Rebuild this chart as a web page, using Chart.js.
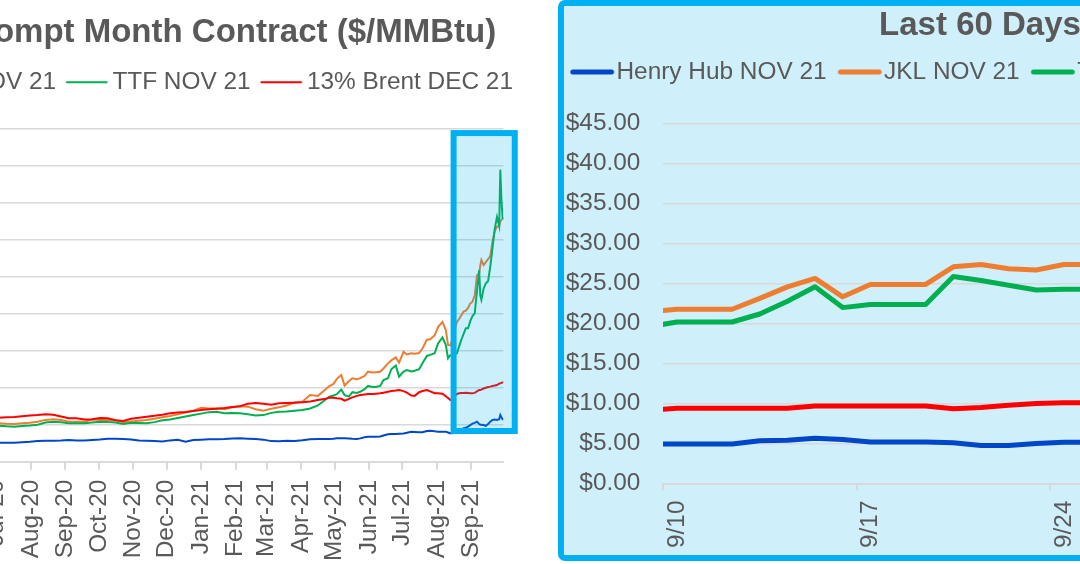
<!DOCTYPE html>
<html><head><meta charset="utf-8">
<script src="https://cdn.jsdelivr.net/npm/chart.js@4.4.0/dist/chart.umd.min.js"></script>
<style>
html,body{margin:0;padding:0;width:1080px;height:564px;overflow:hidden;background:#fff;}
#leftWrap{position:absolute;left:-417px;top:0;width:940px;height:571px;}
#frame{position:absolute;left:558px;top:0;width:620px;height:561px;box-sizing:border-box;border:6px solid #00B0F0;border-radius:7px;background:#CFEFFB;}
#rightWrap{position:absolute;left:559px;top:6px;width:960px;height:552px;}
</style></head><body>
<div id="leftWrap"><canvas id="leftChart"></canvas></div>
<div id="frame"></div>
<div id="rightWrap"><canvas id="rightChart"></canvas></div>
<script>
// ---------- data ----------
const seriesNames = ['Henry Hub NOV 21', 'JKL NOV 21', 'TTF NOV 21', '13% Brent DEC 21'];
const seriesColors = ['#0046C8', '#ED7D31', '#00B050', '#FF0000'];
const leftTitle = 'Prompt Month Contract ($/MMBtu)';
const rightTitle = 'Last 60 Days';

const leftMonthLabels = ['Jul-20','Aug-20','Sep-20','Oct-20','Nov-20','Dec-20','Jan-21','Feb-21','Mar-21','Apr-21','May-21','Jun-21','Jul-21','Aug-21','Sep-21'];

const leftDates = [
'2020-06-19','2020-06-26','2020-07-03','2020-07-10','2020-07-17','2020-07-24','2020-07-31','2020-08-07','2020-08-14','2020-08-21','2020-08-28','2020-09-04','2020-09-11','2020-09-18','2020-09-25',
'2020-10-02','2020-10-09','2020-10-16','2020-10-23','2020-10-30','2020-11-06','2020-11-13','2020-11-20','2020-11-27','2020-12-04','2020-12-11','2020-12-18','2020-12-25','2021-01-01','2021-01-08',
'2021-01-15','2021-01-22','2021-01-29','2021-02-05','2021-02-12','2021-02-19','2021-02-26','2021-03-05','2021-03-12','2021-03-19','2021-03-26','2021-04-02','2021-04-09','2021-04-16','2021-04-23',
'2021-04-26','2021-04-30','2021-05-03','2021-05-07','2021-05-10','2021-05-14','2021-05-17','2021-05-21','2021-05-24','2021-05-28','2021-05-31','2021-06-04','2021-06-07','2021-06-11','2021-06-14',
'2021-06-18','2021-06-21','2021-06-25','2021-06-28','2021-07-02','2021-07-05','2021-07-09','2021-07-12','2021-07-16','2021-07-19','2021-07-23','2021-07-26','2021-07-30','2021-08-02','2021-08-06',
'2021-08-09','2021-08-11','2021-08-13','2021-08-15','2021-08-17','2021-08-19','2021-08-21','2021-08-23','2021-08-25','2021-08-27','2021-08-29','2021-08-31','2021-09-02','2021-09-04','2021-09-06',
'2021-09-08','2021-09-09','2021-09-10','2021-09-12','2021-09-14','2021-09-16','2021-09-18','2021-09-20','2021-09-22','2021-09-24','2021-09-26','2021-09-27','2021-09-28','2021-09-29','2021-09-30'
];
const leftHH = [
2.57,2.57,2.57,2.57,2.57,2.62,2.68,2.80,2.84,2.84,2.86,2.94,2.86,2.88,2.94,
3.00,3.10,3.10,3.06,3.00,2.86,2.84,2.80,2.72,2.88,2.95,2.70,2.92,2.98,3.03,
3.03,3.05,3.12,3.17,3.10,3.05,2.98,2.78,2.75,2.84,2.80,2.90,3.03,3.05,3.07,
3.05,3.10,3.17,3.17,3.17,3.15,3.10,3.07,3.15,3.30,3.38,3.38,3.38,3.40,3.55,
3.72,3.75,3.75,3.78,3.80,3.90,4.05,4.02,3.98,3.98,4.15,4.19,4.10,4.06,4.06,
4.06,3.95,3.84,3.84,3.90,3.95,4.10,4.35,4.52,4.60,4.73,4.95,5.15,5.25,5.41,
5.10,5.00,5.00,4.95,4.83,5.10,5.41,5.65,5.70,5.64,5.75,6.30,6.00,5.73,5.73
];
const leftJKL = [
5.25,5.22,5.19,5.12,5.10,5.19,5.25,5.40,5.65,5.74,5.64,5.41,5.41,5.41,5.70,
5.64,5.64,5.60,5.33,5.45,5.55,5.64,5.80,6.00,6.18,6.40,6.65,6.90,7.30,7.20,
7.22,7.10,7.35,7.50,7.44,7.10,6.90,7.15,7.35,7.60,8.00,8.12,9.02,8.90,9.80,
10.20,10.51,11.20,11.73,10.30,10.90,11.28,11.15,11.30,11.60,12.17,12.05,12.10,12.17,12.60,
13.30,13.70,14.10,13.40,14.85,14.50,14.65,14.60,14.70,15.30,16.50,16.56,17.10,18.20,18.90,
17.80,15.80,15.70,16.50,17.80,18.90,19.30,19.80,20.30,20.43,20.80,21.42,21.64,22.50,25.20,
25.50,26.50,27.28,26.60,27.00,27.40,27.80,29.80,31.20,31.80,31.80,32.50,32.70,32.90,32.92
];
const leftTTF = [
4.90,4.90,4.87,4.78,4.73,4.83,4.90,5.00,5.30,5.41,5.33,5.19,5.19,5.19,5.30,
5.41,5.35,5.30,5.10,5.25,5.22,5.19,5.35,5.60,5.70,5.90,6.10,6.32,6.50,6.70,
6.76,6.55,6.60,6.55,6.41,6.25,6.30,6.60,6.76,6.80,6.90,6.99,7.20,7.60,8.40,
8.75,8.95,9.12,9.75,9.00,8.80,9.40,9.30,9.45,9.80,10.24,10.10,10.10,10.24,11.05,
11.28,12.50,13.00,11.50,12.20,12.40,12.20,12.30,12.50,13.30,14.30,14.45,14.66,16.00,16.80,
15.80,14.00,14.40,14.40,14.50,14.66,15.60,16.50,17.30,18.04,18.04,19.00,19.70,20.07,23.00,
25.90,22.50,21.90,23.40,24.13,24.40,26.40,28.90,31.50,33.10,31.90,39.50,35.50,33.10,32.80
];
const leftBrent = [
5.95,5.95,5.95,6.00,6.05,6.15,6.25,6.30,6.40,6.35,6.10,5.87,5.87,5.70,5.75,
5.90,5.87,5.60,5.50,5.80,5.95,6.09,6.20,6.35,6.55,6.65,6.72,6.85,6.99,7.08,
7.15,7.25,7.38,7.50,7.85,7.95,7.82,7.70,7.90,7.95,7.98,8.03,8.15,8.35,8.50,
8.68,8.66,8.58,8.50,8.25,8.50,8.70,8.90,9.02,9.10,9.15,9.16,9.20,9.25,9.33,
9.45,9.55,9.62,9.70,9.55,9.33,8.95,8.90,9.40,9.55,9.70,9.50,9.25,9.25,9.20,
8.85,8.60,8.35,8.60,8.90,9.16,9.25,9.30,9.30,9.33,9.30,9.25,9.25,9.30,9.50,
9.70,9.70,9.75,9.90,10.00,10.10,10.15,10.25,10.30,10.37,10.55,10.60,10.65,10.72,10.74
];
const highlightDates = ['2021-08-16', '2021-10-10'];
const highlightValues = [4.15, 44.45];

const rightDates = ['9/9','9/10','9/11','9/12','9/13','9/14','9/15','9/16','9/17','9/18','9/19','9/20','9/21','9/22','9/23','9/24','9/25','9/26','9/27','9/28','9/29','9/30','10/1','10/2','10/3'];
const rightHH    = [4.94,4.94,4.94,4.94,5.35,5.40,5.65,5.50,5.20,5.20,5.20,5.10,4.77,4.77,5.00,5.15,5.15,5.15,5.40,5.70,5.65,5.60,5.75,5.75,5.75];
const rightJKL   = [21.45,21.80,21.80,21.80,23.15,24.60,25.65,23.35,24.90,24.90,24.90,27.10,27.40,26.85,26.70,27.40,27.40,27.40,27.80,29.80,31.20,31.80,31.80,31.80,31.80];
const rightTTF   = [19.60,20.20,20.20,20.20,21.20,22.80,24.60,22.00,22.40,22.40,22.40,25.90,25.40,24.80,24.20,24.30,24.30,24.30,26.40,29.00,31.60,33.10,31.80,31.80,31.80];
const rightBrent = [9.15,9.40,9.40,9.40,9.40,9.40,9.70,9.70,9.70,9.70,9.70,9.35,9.50,9.80,10.00,10.10,10.10,10.10,10.20,10.30,10.35,10.40,10.55,10.55,10.55];
const rightTickLabels = ['9/10','9/17','9/24','10/1'];

// ---------- helpers ----------
const DAY = 864e5;
const BASE = Date.UTC(2020, 6, 1);
function dayOf(iso) { const [y, m, d] = iso.split('-').map(Number); return (Date.UTC(y, m - 1, d) - BASE) / DAY; }
const MONTHS = ['Jan','Feb','Mar','Apr','May','Jun','Jul','Aug','Sep','Oct','Nov','Dec'];
function monthDay(lbl) { const [mm, yy] = lbl.split('-'); return (Date.UTC(2000 + Number(yy), MONTHS.indexOf(mm), 1) - BASE) / DAY; }
function rightDay(md) { const [m, d] = md.split('/').map(Number); return (Date.UTC(2021, m - 1, d) - Date.UTC(2021, 7, 31)) / DAY; }

Chart.defaults.font.family = "'Liberation Sans', Arial, sans-serif";
Chart.defaults.color = '#595959';
const FONT = 24.4;
const TITLE_FONT = 33;
const GRID = '#D9D9D9';
const TXT = '#595959';

function legendLine(color, width, from, to, boxW, cap) {
  const c = document.createElement('canvas');
  c.width = 120; c.height = 12;
  const g = c.getContext('2d');
  g.strokeStyle = color; g.lineWidth = width; g.lineCap = cap;
  const x0 = 60 - boxW / 2;
  g.beginPath(); g.moveTo(x0 + from, 6); g.lineTo(x0 + to, 6); g.stroke();
  return c;
}
const leftLegendImgs = seriesColors.map(c => legendLine(c, 2, 0, 41.3, 34.1, 'butt'));
const rightLegendImgs = seriesColors.map(c => legendLine(c, 5, 2.8, 41.5, 34.3, 'round'));

function legendOpts(imgs, align, pad, boxW) {
  return {
    display: true, position: 'top', align: align,
    labels: {
      usePointStyle: true, pointStyleWidth: boxW, padding: pad,
      font: { size: FONT }, color: TXT,
      sort: (a, b) => a.datasetIndex - b.datasetIndex,
      generateLabels: chart => {
        const items = Chart.defaults.plugins.legend.labels.generateLabels(chart);
        items.forEach(it => { it.pointStyle = imgs[it.datasetIndex]; });
        return items;
      }
    }
  };
}

const highlightPlugin = {
  id: 'highlightBox',
  afterDatasetsDraw(chart) {
    const { ctx, scales: { x, y } } = chart;
    const x0 = x.getPixelForValue(dayOf(highlightDates[0]));
    const x1 = x.getPixelForValue(dayOf(highlightDates[1]));
    const y0 = y.getPixelForValue(highlightValues[1]);
    const y1 = y.getPixelForValue(highlightValues[0]);
    ctx.save();
    ctx.fillStyle = 'rgba(0,176,240,0.2)';
    ctx.fillRect(x0, y0, x1 - x0, y1 - y0);
    ctx.lineWidth = 6; ctx.strokeStyle = '#00B0F0'; ctx.lineJoin = 'miter';
    ctx.strokeRect(x0, y0, x1 - x0, y1 - y0);
    ctx.restore();
  }
};

// ---------- left chart ----------
const leftSeries = [leftHH, leftJKL, leftTTF, leftBrent];
new Chart(document.getElementById('leftChart'), {
  type: 'line',
  data: {
    datasets: leftSeries.map((vals, i) => ({
      label: seriesNames[i],
      data: vals.map((v, k) => ({ x: dayOf(leftDates[k]), y: v })),
      borderColor: seriesColors[i], backgroundColor: seriesColors[i],
      borderWidth: 2, pointRadius: 0, tension: 0, order: 4 - i,
      xAxisID: 'x', yAxisID: 'y'
    }))
  },
  options: {
    responsive: true, maintainAspectRatio: false, animation: false,
    events: [],
    layout: { padding: 0 },
    scales: {
      x: {
        type: 'linear', bounds: 'data',
        min: dayOf('2020-05-22') - 0.21, max: dayOf('2021-09-29') + 0.79,
        afterBuildTicks: s => { s.ticks = leftMonthLabels.map(l => ({ value: monthDay(l) })); },
        afterFit: s => { s.paddingRight = 19.6; },
        ticks: {
          autoSkip: false, minRotation: 90, maxRotation: 90, padding: 10,
          font: { size: FONT }, color: TXT,
          callback: v => { const i = leftMonthLabels.findIndex(l => Math.abs(monthDay(l) - v) < 0.01); return i >= 0 ? leftMonthLabels[i] : ''; }
        },
        grid: { display: true, drawOnChartArea: false, drawTicks: true, tickLength: 8, color: GRID, lineWidth: 2 },
        border: { display: true, color: GRID, width: 2 }
      },
      y: {
        min: 0, max: 45,
        afterFit: s => { s.width = 368.8; },
        ticks: { stepSize: 5, padding: 10, font: { size: FONT }, color: TXT, callback: v => '$' + Number(v).toFixed(2) },
        grid: { color: GRID, lineWidth: 1.5, drawTicks: false },
        border: { display: false }
      },
      spacer: {
        type: 'linear', position: 'top', display: true,
        afterFit: s => { s.height = 24.6; },
        ticks: { display: false }, grid: { display: false, drawTicks: false }, border: { display: false }
      }
    },
    plugins: {
      title: { display: true, text: leftTitle, fullSize: false, align: 'center', color: TXT, font: { size: TITLE_FONT, weight: 'bold' }, padding: { top: 13.2, bottom: 7.2 } },
      legend: legendOpts(leftLegendImgs, 'end', 10, 34.1),
      tooltip: { enabled: false }
    }
  },
  plugins: [highlightPlugin]
});

// ---------- right chart ----------
const rightSeries = [rightHH, rightJKL, rightTTF, rightBrent];
new Chart(document.getElementById('rightChart'), {
  type: 'line',
  data: {
    datasets: rightSeries.map((vals, i) => ({
      label: seriesNames[i],
      data: vals.map((v, k) => ({ x: rightDay(rightDates[k]), y: v })),
      borderColor: seriesColors[i], backgroundColor: seriesColors[i],
      borderWidth: 5, pointRadius: 0, tension: 0, order: 4 - i,
      borderJoinStyle: 'round', borderCapStyle: 'round',
      xAxisID: 'x', yAxisID: 'y'
    }))
  },
  options: {
    responsive: true, maintainAspectRatio: false, animation: false,
    events: [],
    layout: { padding: 0 },
    scales: {
      x: {
        type: 'linear', bounds: 'data',
        min: rightDay('9/10') - 0.5, max: rightDay('10/2') + 0.43,
        afterBuildTicks: s => { s.ticks = rightTickLabels.map(l => ({ value: rightDay(l) - 0.5 })); },
        afterFit: s => { s.paddingRight = 222; },
        ticks: {
          autoSkip: false, minRotation: 90, maxRotation: 90, padding: 10, labelOffset: 13.8,
          font: { size: FONT }, color: TXT,
          callback: v => { const i = rightTickLabels.findIndex(l => Math.abs(rightDay(l) - 0.5 - v) < 0.01); return i >= 0 ? rightTickLabels[i] : ''; }
        },
        grid: { display: true, drawOnChartArea: false, drawTicks: true, tickLength: 7, color: GRID, lineWidth: 2 },
        border: { display: true, color: GRID, width: 2 }
      },
      y: {
        min: 0, max: 45,
        afterFit: s => { s.width = 104; },
        ticks: { stepSize: 5, padding: 22.6, font: { size: FONT }, color: TXT, callback: v => '$' + Number(v).toFixed(2) },
        grid: { color: GRID, lineWidth: 1.5, drawTicks: false },
        border: { display: false }
      },
      spacer: {
        type: 'linear', position: 'top', display: true,
        afterFit: s => { s.height = 29.5; },
        ticks: { display: false }, grid: { display: false, drawTicks: false }, border: { display: false }
      }
    },
    plugins: {
      title: { display: true, text: rightTitle, fullSize: false, align: 'center', color: TXT, font: { size: TITLE_FONT, weight: 'bold' }, padding: { top: 0, bottom: 3.2 } },
      legend: legendOpts(rightLegendImgs, 'start', 11, 34.3),
      tooltip: { enabled: false }
    }
  }
});
</script>
</body></html>
